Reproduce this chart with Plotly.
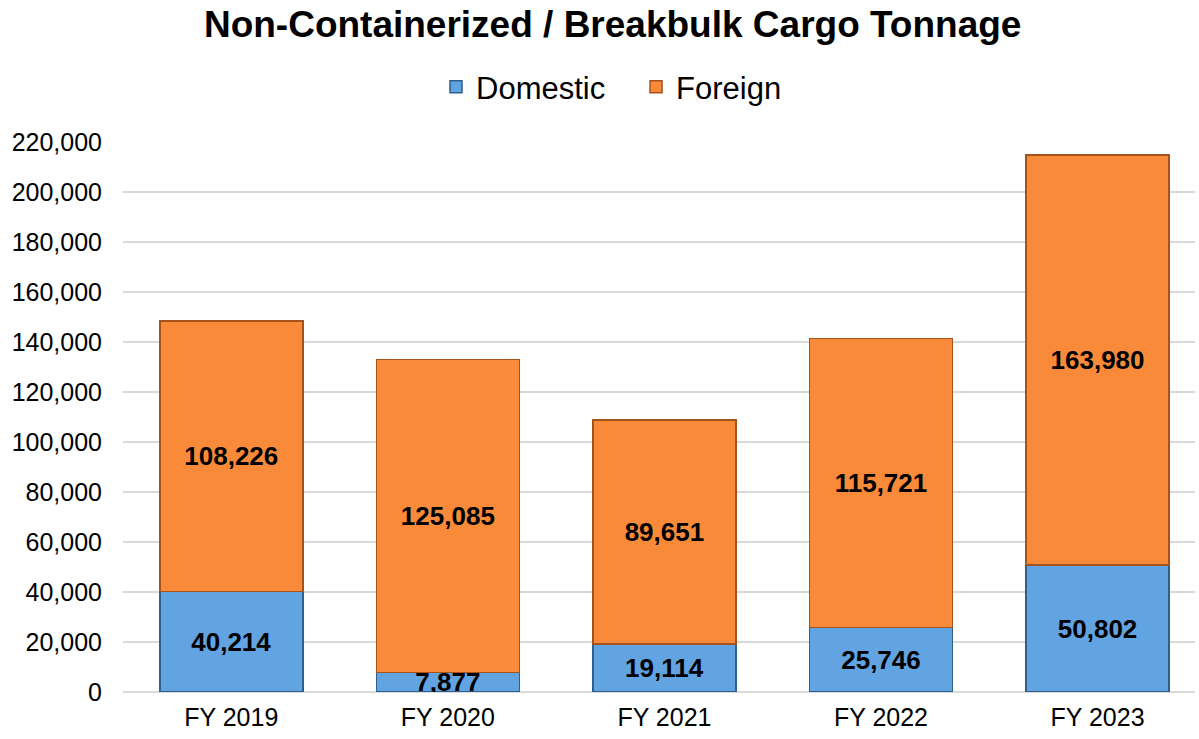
import plotly.graph_objects as go

categories = ["FY 2019", "FY 2020", "FY 2021", "FY 2022", "FY 2023"]
domestic = [40214, 7877, 19114, 25746, 50802]
foreign = [108226, 125085, 89651, 115721, 163980]
y_ticks = list(range(0, 220001, 20000))

label_font = dict(family="Liberation Sans, Arial", size=26, color="black", weight="bold")

fig = go.Figure()
fig.add_trace(go.Bar(
    name="Domestic&nbsp;&nbsp;&nbsp;", x=categories, y=domestic,
    marker=dict(color="#62a3e2", line=dict(color="#2f5f8f", width=1.5)),
    text=[f"{v:,}" for v in domestic], textposition="inside", insidetextanchor="middle",
    constraintext="none", textangle=0, textfont=label_font,
    hoverinfo="skip",
))
fig.add_trace(go.Bar(
    name="Foreign", x=categories, y=foreign,
    marker=dict(color="#f98a3a", line=dict(color="#a5531b", width=1.5)),
    text=[f"{v:,}" for v in foreign], textposition="inside", insidetextanchor="middle",
    constraintext="none", textangle=0, textfont=label_font,
    hoverinfo="skip",
))

H, W = 739, 1199
fig.update_layout(
    barmode="stack",
    bargap=0.34,
    width=W, height=H,
    margin=dict(l=123, r=4, t=142, b=47),
    paper_bgcolor="white", plot_bgcolor="white",
    font=dict(family="Liberation Sans, Arial", color="black"),
    title=dict(text="<b>Non-Containerized / Breakbulk Cargo Tonnage</b>",
               x=0.511, xanchor="center", xref="container",
               y=1 - 24 / H, yanchor="middle", yref="container",
               font=dict(size=37, color="black")),
    legend=dict(orientation="h", x=0.5 + 12 / W, xanchor="center", xref="container",
                y=1 - 87 / H, yanchor="middle", yref="container",
                font=dict(size=31), traceorder="normal", itemwidth=30),
    showlegend=True,
)
fig.update_xaxes(type="category", range=[-0.5, 4.45], showgrid=False,
                 tickfont=dict(size=25), ticks="", showline=False, ticklabelstandoff=8)
fig.update_yaxes(range=[0, 220000], tickvals=y_ticks,
                 ticktext=[f"{v:,}" for v in y_ticks],
                 tickfont=dict(size=25), showgrid=True, gridcolor="#d9d9d9", gridwidth=1.5,
                 zeroline=True, zerolinecolor="#d9d9d9", zerolinewidth=1.5,
                 ticks="", ticklabelstandoff=20)

fig.write_html("out.html", config={"displayModeBar": False},
               post_script="document.body.style.margin='0';document.body.style.overflow='hidden';")
